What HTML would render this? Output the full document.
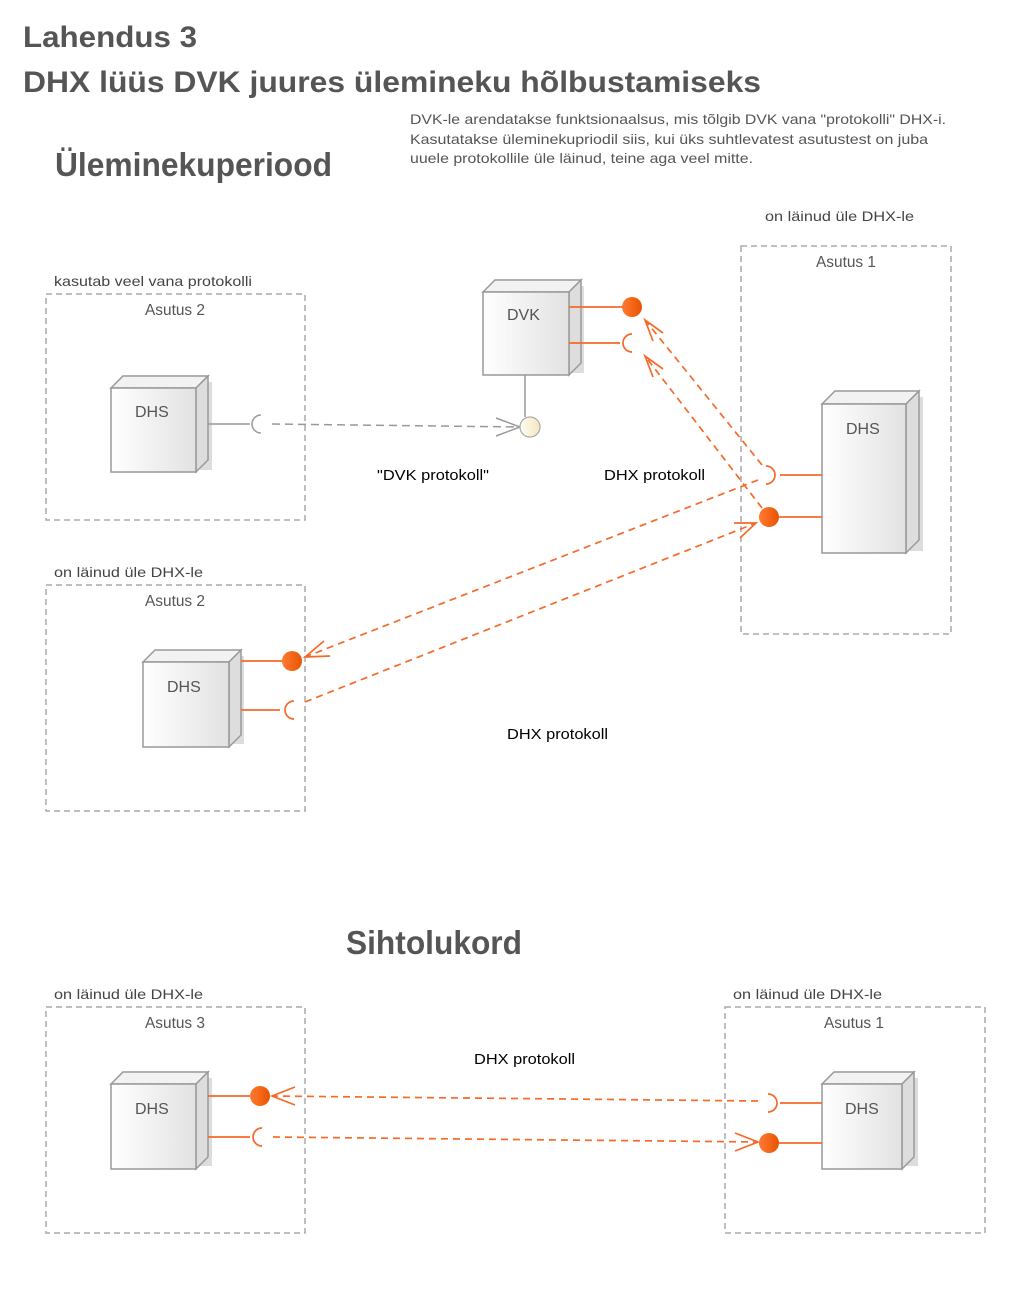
<!DOCTYPE html>
<html><head><meta charset="utf-8"><style>
html,body{margin:0;padding:0;background:#fff;}
svg{display:block;}
text{font-family:"Liberation Sans",sans-serif;}
</style></head><body>
<svg width="1016" height="1305" viewBox="0 0 1016 1305" xmlns="http://www.w3.org/2000/svg">
<defs>
<linearGradient id="g" x1="0" x2="1" y1="0" y2="0"><stop offset="0" stop-color="#fff"/><stop offset="1" stop-color="#e2e2e2"/></linearGradient>
<linearGradient id="ob" x1="0" x2="1"><stop offset="0" stop-color="#ff7a33"/><stop offset="1" stop-color="#e85400"/></linearGradient>
<linearGradient id="yb" x1="0" x2="1"><stop offset="0" stop-color="#fffdf3"/><stop offset="1" stop-color="#f5e6bf"/></linearGradient>
</defs>
<g fill="#555" font-weight="bold">
<text x="23" y="47" font-size="30" textLength="174" lengthAdjust="spacingAndGlyphs">Lahendus 3</text>
<text x="23" y="92" font-size="30" textLength="738" lengthAdjust="spacingAndGlyphs">DHX lüüs DVK juures ülemineku hõlbustamiseks</text>
<text x="55" y="176" font-size="33" textLength="277" lengthAdjust="spacingAndGlyphs">Üleminekuperiood</text>
<text x="346" y="954" font-size="33" textLength="176" lengthAdjust="spacingAndGlyphs">Sihtolukord</text>
</g>
<g fill="#555" font-size="14">
<text x="410" y="124" textLength="536" lengthAdjust="spacingAndGlyphs">DVK-le arendatakse funktsionaalsus, mis tõlgib DVK vana "protokolli" DHX-i.</text>
<text x="410" y="144" textLength="518" lengthAdjust="spacingAndGlyphs">Kasutatakse üleminekupriodil siis, kui üks suhtlevatest asutustest on juba</text>
<text x="410" y="163" textLength="343" lengthAdjust="spacingAndGlyphs">uuele protokollile üle läinud, teine aga veel mitte.</text>
</g>
<g fill="#444" font-size="14">
<text x="54" y="286" textLength="198" lengthAdjust="spacingAndGlyphs">kasutab veel vana protokolli</text>
<text x="765" y="221" textLength="149" lengthAdjust="spacingAndGlyphs">on läinud üle DHX-le</text>
<text x="54" y="577" textLength="149" lengthAdjust="spacingAndGlyphs">on läinud üle DHX-le</text>
<text x="54" y="999" textLength="149" lengthAdjust="spacingAndGlyphs">on läinud üle DHX-le</text>
<text x="733" y="999" textLength="149" lengthAdjust="spacingAndGlyphs">on läinud üle DHX-le</text>
</g>
<g fill="#555" font-size="16">
<text x="145" y="315" textLength="60" lengthAdjust="spacingAndGlyphs">Asutus 2</text>
<text x="816" y="267" textLength="60" lengthAdjust="spacingAndGlyphs">Asutus 1</text>
<text x="145" y="606" textLength="60" lengthAdjust="spacingAndGlyphs">Asutus 2</text>
<text x="145" y="1028" textLength="60" lengthAdjust="spacingAndGlyphs">Asutus 3</text>
<text x="824" y="1028" textLength="60" lengthAdjust="spacingAndGlyphs">Asutus 1</text>
</g>
<g fill="#000" font-size="15">
<text x="377" y="480" textLength="112" lengthAdjust="spacingAndGlyphs">"DVK protokoll"</text>
<text x="604" y="480" textLength="101" lengthAdjust="spacingAndGlyphs">DHX protokoll</text>
<text x="507" y="739" textLength="101" lengthAdjust="spacingAndGlyphs">DHX protokoll</text>
<text x="474" y="1064" textLength="101" lengthAdjust="spacingAndGlyphs">DHX protokoll</text>
</g>
<g fill="none" stroke="#aaa" stroke-width="1.5" stroke-dasharray="6,4">
<rect x="46" y="294" width="259" height="226"/>
<rect x="741" y="246" width="210" height="388"/>
<rect x="46" y="585" width="259" height="226"/>
<rect x="46" y="1007" width="259" height="226"/>
<rect x="725" y="1007" width="260" height="226"/>
</g>
<g stroke="#999" stroke-width="1.5">
<rect x="200" y="382" width="12" height="88" fill="#ddd" stroke="none"/>
<polygon points="111,388 123,376 208,376 196,388" fill="#f2f2f2"/>
<polygon points="196,388 208,376 208,460 196,472" fill="#ddd"/>
<rect x="111" y="388" width="85" height="84" fill="url(#g)"/>
<rect x="572" y="286" width="12" height="87" fill="#ddd" stroke="none"/>
<polygon points="483,292 495,280 581,280 569,292" fill="#f2f2f2"/>
<polygon points="569,292 581,280 581,363 569,375" fill="#ddd"/>
<rect x="483" y="292" width="86" height="83" fill="url(#g)"/>
<rect x="910" y="397" width="13" height="154" fill="#ddd" stroke="none"/>
<polygon points="822,404 835,391 919,391 906,404" fill="#f2f2f2"/>
<polygon points="906,404 919,391 919,540 906,553" fill="#ddd"/>
<rect x="822" y="404" width="84" height="149" fill="url(#g)"/>
<rect x="232" y="656" width="12" height="88" fill="#ddd" stroke="none"/>
<polygon points="143,662 155,650 241,650 229,662" fill="#f2f2f2"/>
<polygon points="229,662 241,650 241,735 229,747" fill="#ddd"/>
<rect x="143" y="662" width="86" height="85" fill="url(#g)"/>
<rect x="200" y="1078" width="12" height="88" fill="#ddd" stroke="none"/>
<polygon points="111,1084 123,1072 208,1072 196,1084" fill="#f2f2f2"/>
<polygon points="196,1084 208,1072 208,1157 196,1169" fill="#ddd"/>
<rect x="111" y="1084" width="85" height="85" fill="url(#g)"/>
<rect x="906" y="1078" width="12" height="88" fill="#ddd" stroke="none"/>
<polygon points="822,1084 834,1072 914,1072 902,1084" fill="#f2f2f2"/>
<polygon points="902,1084 914,1072 914,1157 902,1169" fill="#ddd"/>
<rect x="822" y="1084" width="80" height="85" fill="url(#g)"/>
</g>
<g fill="#555" font-size="16">
<text x="135" y="417">DHS</text>
<text x="507" y="320">DVK</text>
<text x="846" y="434">DHS</text>
<text x="167" y="692">DHS</text>
<text x="135" y="1114">DHS</text>
<text x="845" y="1114">DHS</text>
</g>
<g fill="none" stroke="#999" stroke-width="1.5">
<line x1="208" y1="424" x2="250" y2="424"/>
<path d="M261,415 A9,9 0 0 0 261,433"/>
<line x1="525" y1="375" x2="525" y2="417"/>
<path d="M272,424 L520,427" stroke-dasharray="8,5"/>
<path d="M496,418 L520,427 L496,436"/>
</g>
<circle cx="530" cy="427" r="10" fill="url(#yb)" stroke="#aaa" stroke-width="1.2"/>
<g fill="none" stroke="#f56a2a" stroke-width="1.7">
<line x1="569" y1="307" x2="622" y2="307"/>
<line x1="569" y1="343" x2="620" y2="343"/>
<path d="M632,334 A9,9 0 0 0 632,352"/>
<line x1="780" y1="475" x2="822" y2="475"/>
<path d="M766,466 A9,9 0 0 1 766,484"/>
<line x1="779" y1="517" x2="822" y2="517"/>
<line x1="241" y1="661" x2="282" y2="661"/>
<line x1="241" y1="710" x2="280" y2="710"/>
<path d="M294,701 A9,9 0 0 0 294,719"/>
<line x1="208" y1="1096" x2="250" y2="1096"/>
<line x1="208" y1="1137" x2="250" y2="1137"/>
<path d="M262,1128 A9,9 0 0 0 262,1146"/>
<line x1="780" y1="1103" x2="822" y2="1103"/>
<path d="M768,1094 A9,9 0 0 1 768,1112"/>
<line x1="779" y1="1143" x2="822" y2="1143"/>
<g stroke-dasharray="7,5">
<line x1="762" y1="465" x2="645" y2="320"/>
<line x1="762" y1="508" x2="645" y2="356"/>
<line x1="758" y1="480" x2="305" y2="657"/>
<line x1="305" y1="702" x2="756" y2="523"/>
<line x1="758" y1="1101" x2="272" y2="1096"/>
<line x1="273" y1="1137" x2="758" y2="1142"/>
</g>
<path d="M653,341 L645,320 L663,333"/>
<path d="M653,377 L645,356 L663,369"/>
<path d="M324,641 L305,657 L330,656"/>
<path d="M734,523 L756,523 L740,538"/>
<path d="M295,1087 L272,1096 L295,1105"/>
<path d="M735,1133 L758,1142 L735,1151"/>
</g>
<g fill="url(#ob)">
<circle cx="632" cy="307" r="10"/>
<circle cx="769" cy="517" r="10"/>
<circle cx="292" cy="661" r="10"/>
<circle cx="260" cy="1096" r="10"/>
<circle cx="769" cy="1143" r="10"/>
</g>
</svg>
</body></html>
